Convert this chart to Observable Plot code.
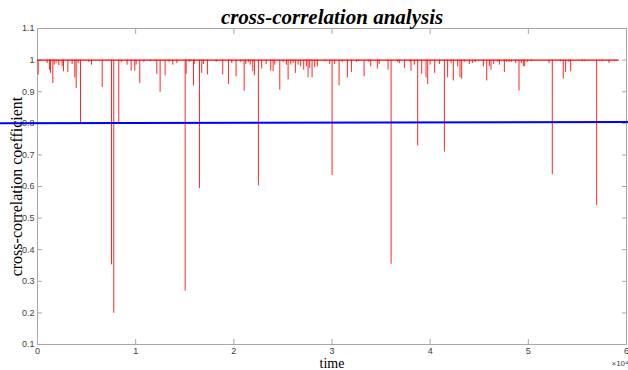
<!DOCTYPE html>
<html><head><meta charset="utf-8">
<script src="https://cdn.jsdelivr.net/npm/d3@7"></script>
<script src="https://cdn.jsdelivr.net/npm/@observablehq/plot@0.6"></script>
<style>body{margin:0;background:#fff}#chart svg{display:block}</style>
</head><body><div id="chart"></div>
<script>
const titleText = "cross-correlation analysis";
const xLabel = "time";
const yLabel = "cross-correlation coefficient";
const xExponent = "×10⁴";

const spikeTime = [70,990,1220,1320,1560,1700,1900,2170,2510,2650,3090,3530,3800,3940,4140,4380,5230,5500,6590,7540,7770,8280,8550,9130,9540,9910,10050,10420,10830,11510,11950,12150,12490,13000,13410,13780,14190,15040,15140,15450,15610,15890,15960,16500,16730,16900,17310,18200,18870,19450,19790,20230,20700,21050,21210,21490,21660,21930,22100,22500,22840,23290,23760,24000,24170,24680,25020,25360,25530,25800,26040,26270,26550,26810,27120,27390,27560,27730,27970,28240,28510,29260,29770,30010,30280,30720,31030,31570,31980,32490,32720,33270,33740,33940,34620,34800,35710,36020,36690,36860,37370,37950,38050,38390,38730,39140,39580,39750,39990,40460,40940,41450,41780,42130,42360,42800,43040,43210,43480,43990,44330,44600,45420,45760,46030,46200,46470,46880,47050,47560,47790,48030,48270,48710,49050,49290,49490,49630,49900,50310,52110,52440,53290,53560,53800,54140,54310,55500,55740,56960,57540,58220,58790];
const spikeValue = [0.953,0.989,0.968,0.958,0.926,0.984,0.989,0.982,0.979,0.963,0.961,0.986,0.944,0.910,0.989,0.800,0.993,0.984,0.913,0.352,0.199,0.803,0.993,0.984,0.965,0.965,0.984,0.926,0.993,0.995,0.997,0.955,0.898,0.950,0.993,0.984,0.989,0.269,0.955,0.993,0.995,0.919,0.986,0.594,0.958,0.986,0.953,0.993,0.953,0.923,0.989,0.947,0.993,0.902,0.986,0.993,0.984,0.963,0.950,0.602,0.972,0.986,0.965,0.963,0.984,0.905,0.993,0.984,0.937,0.984,0.989,0.958,0.984,0.979,0.968,0.979,0.944,0.974,0.944,0.976,0.979,0.995,0.986,0.635,0.986,0.919,0.993,0.944,0.961,0.993,0.995,0.947,0.993,0.979,0.972,0.986,0.968,0.354,0.993,0.989,0.974,0.993,0.965,0.984,0.728,0.955,0.944,0.923,0.984,0.958,0.986,0.709,0.944,0.989,0.934,0.979,0.944,0.940,0.993,0.986,0.989,0.993,0.979,0.934,0.979,0.968,0.986,0.993,0.984,0.961,0.993,0.993,0.993,0.989,0.902,0.989,0.979,0.979,0.993,0.995,0.989,0.637,0.995,0.940,0.961,0.993,0.963,0.995,0.995,0.540,0.995,0.989,0.995];

const baseTime = [0, 59170];
const baseValue = [1, 1];
const threshTime = [-3770, 60200];
const threshValue = [0.800, 0.8045];

const xTicks = [0, 10000, 20000, 30000, 40000, 50000, 60000];
const yTicks = [0.1, 0.2, 0.3, 0.4, 0.5, 0.6, 0.7, 0.8, 0.9, 1.0, 1.1];

const spikes = spikeTime.map((t, i) => ({t, v: spikeValue[i]}));
const base = baseTime.map((t, i) => ({t, v: baseValue[i]}));
const thresh = threshTime.map((t, i) => ({t, v: threshValue[i]}));

const axisColor = "#a8a8a8";
const serif = "'Liberation Serif', 'Times New Roman', serif";
const tickFont = {fontSize: 9, fontFamily: "'Liberation Sans', Arial, sans-serif", fill: "#404040"};

const chart = Plot.plot({
  width: 628,
  height: 370,
  marginTop: 28,
  marginLeft: 37,
  marginRight: 2,
  marginBottom: 26,
  style: {background: "#fff"},
  x: {domain: [0, 60000], label: null},
  y: {domain: [0.1, 1.1], label: null},
  marks: [
    Plot.frame({stroke: axisColor}),
    Plot.axisX({ticks: xTicks, anchor: "bottom", tickSize: -5, stroke: axisColor, tickFormat: () => "", label: null}),
    Plot.axisX({ticks: xTicks, anchor: "top", tickSize: -5, stroke: axisColor, tickFormat: () => "", label: null}),
    Plot.axisY({ticks: yTicks, anchor: "left", tickSize: -5, stroke: axisColor, tickFormat: () => "", label: null}),
    Plot.axisY({ticks: yTicks, anchor: "right", tickSize: -5, stroke: axisColor, tickFormat: () => "", label: null}),
    Plot.axisX({ticks: xTicks, anchor: "bottom", tickSize: 0, tickPadding: 3, tickFormat: d => String(d / 10000), label: null, ...tickFont}),
    Plot.axisY({ticks: yTicks, anchor: "left", tickSize: 0, tickPadding: 3, tickFormat: d => String(+d.toFixed(1)), label: null, ...tickFont}),
    Plot.ruleX(spikes, {x: "t", y1: 1, y2: "v", stroke: "#ff0000", strokeWidth: 1, strokeOpacity: 0.85}),
    Plot.line(base, {x: "t", y: "v", stroke: "#ff0000", strokeWidth: 1.3}),
    Plot.line(thresh, {x: "t", y: "v", stroke: "#0000ff", strokeWidth: 2}),
    Plot.text([titleText], {text: d => d, frameAnchor: "top", lineAnchor: "middle", textAnchor: "middle", dy: -11, fontSize: 21, fontWeight: "bold", fontStyle: "italic", fontFamily: serif, fill: "#000"}),
    Plot.text([xLabel], {text: d => d, frameAnchor: "bottom", lineAnchor: "middle", textAnchor: "middle", dy: 19.5, fontSize: 14, fontFamily: serif, fill: "#000"}),
    Plot.text([yLabel], {text: d => d, frameAnchor: "left", lineAnchor: "middle", textAnchor: "middle", dx: -21, rotate: -90, fontSize: 16, fontFamily: serif, fill: "#000"}),
    Plot.text([xExponent], {text: d => d, frameAnchor: "bottom-right", lineAnchor: "middle", textAnchor: "end", dx: 2, dy: 19, ...tickFont, fontSize: 8})
  ]
});
document.getElementById("chart").appendChild(chart);
</script>
</body></html>
